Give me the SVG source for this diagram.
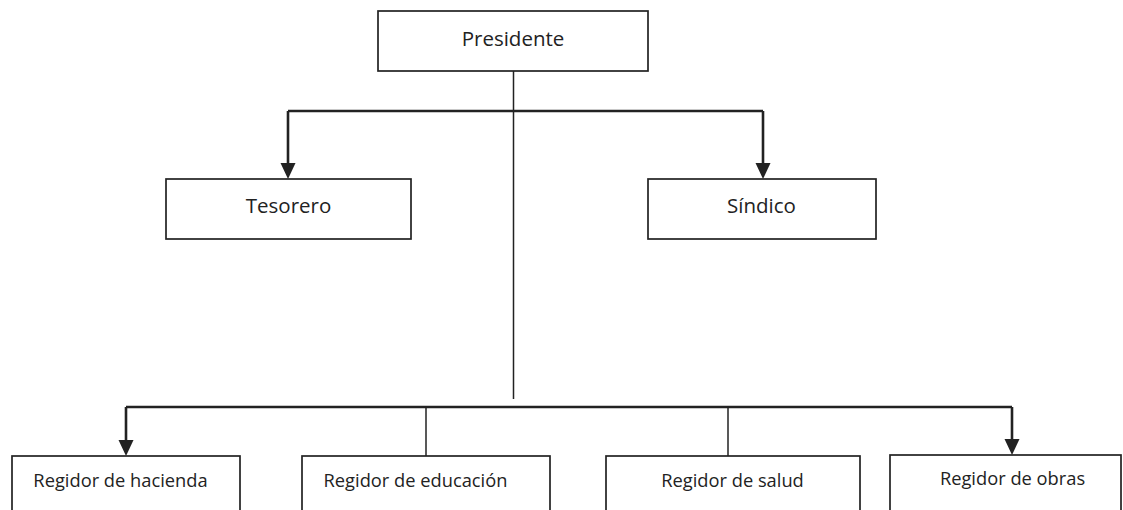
<svg xmlns="http://www.w3.org/2000/svg" width="1123" height="510" viewBox="0 0 1123 510">
<style>
.box{fill:#fff;stroke:#222;stroke-width:1.7}
.t{font-family:"Open Sans","Noto Sans",sans-serif;fill:#222;text-anchor:middle}
.top{font-size:20.5px}
.bot{font-size:18.3px}
.thick{fill:none;stroke:#222;stroke-width:2.6}
.thin{fill:none;stroke:#222;stroke-width:1.5}
</style>
<g id="connectors">
<line class="thin" x1="513.5" y1="71" x2="513.5" y2="399"/>
<line class="thick" x1="288" y1="111" x2="763" y2="111"/>
<path class="thick" d="M288,111 V163"/>
<polygon points="280.5,163 295.5,163 288,179" fill="#222"/>
<path class="thick" d="M763,111 V163"/>
<polygon points="755.5,163 770.5,163 763,179" fill="#222"/>
<line class="thick" x1="126" y1="407" x2="1012" y2="407"/>
<path class="thick" d="M126,407 V440"/>
<polygon points="118.5,440 133.5,440 126,456" fill="#222"/>
<path class="thick" d="M1012,407 V439"/>
<polygon points="1004.5,439 1019.5,439 1012,455" fill="#222"/>
<line class="thin" x1="426" y1="407" x2="426" y2="456"/>
<line class="thin" x1="728" y1="407" x2="728" y2="456"/>
</g>
<g id="presidente">
<rect class="box" x="378" y="11" width="270" height="60"/>
<text class="t top" x="513" y="46">Presidente</text>
</g>
<g id="tesorero">
<rect class="box" x="166" y="179" width="245" height="60"/>
<text class="t top" x="288.5" y="213">Tesorero</text>
</g>
<g id="sindico">
<rect class="box" x="648" y="179" width="228" height="60"/>
<text class="t top" x="761.5" y="213">Síndico</text>
</g>
<g id="hacienda">
<rect class="box" x="12" y="456" width="228" height="60"/>
<text class="t bot" x="120.5" y="487">Regidor de hacienda</text>
</g>
<g id="educacion">
<rect class="box" x="302" y="456" width="248" height="60"/>
<text class="t bot" x="415.5" y="487">Regidor de educación</text>
</g>
<g id="salud">
<rect class="box" x="606" y="456" width="254" height="60"/>
<text class="t bot" x="732.5" y="487">Regidor de salud</text>
</g>
<g id="obras">
<rect class="box" x="890" y="455" width="231" height="60"/>
<text class="t bot" x="1012.5" y="485">Regidor de obras</text>
</g>
</svg>
